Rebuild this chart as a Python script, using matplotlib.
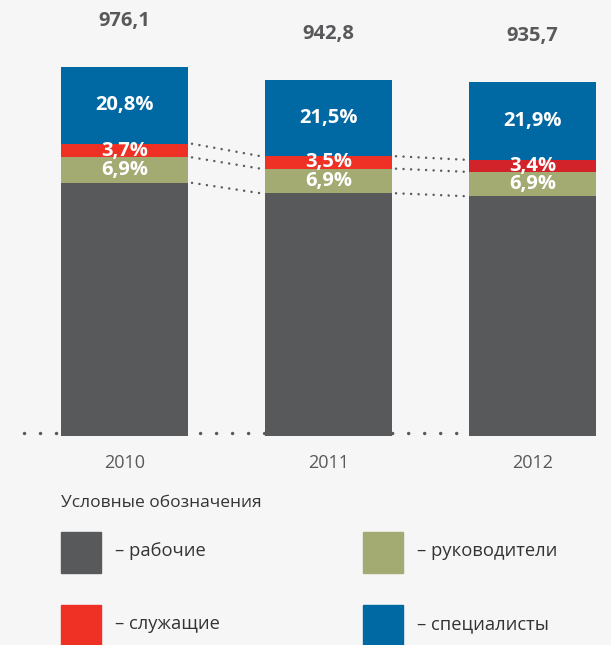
import matplotlib.pyplot as plt
from matplotlib.patches import Rectangle

plt.rcParams['font.family'] = ['Open Sans', 'DejaVu Sans']

# data
years = ["2010", "2011", "2012"]
totals = [976.1, 942.8, 935.7]
specialists = [20.8, 21.5, 21.9]   # специалисты, %
employees = [3.7, 3.5, 3.4]        # служащие, %
managers = [6.9, 6.9, 6.9]         # руководители, %
workers = [round(100 - s - e - m, 1) for s, e, m in zip(specialists, employees, managers)]

total_labels = ["976,1", "942,8", "935,7"]

c_gray = "#58595b"
c_green = "#a4ab72"
c_red = ["#ee3124", "#ee3124", "#d2232a"]
c_blue = "#0069a4"
txt = "#58595b"

fig = plt.figure(figsize=(6.11, 6.45), dpi=100, facecolor="#f6f6f6")
ax = fig.add_axes([0, 0.324, 1, 0.676])
ax.set_facecolor("none")
ax.axis("off")
ax.set_xlim(-0.610, 2.385)
ax.set_ylim(0, 1153.3)

x = range(len(years))
w = 0.6225

# absolute segment sizes
g = [t * p / 100 for t, p in zip(totals, workers)]
m = [t * p / 100 for t, p in zip(totals, managers)]
e = [t * p / 100 for t, p in zip(totals, employees)]
s = [t * p / 100 for t, p in zip(totals, specialists)]
b1 = g
b2 = [a + b for a, b in zip(g, m)]
b3 = [a + b for a, b in zip(b2, e)]

# baseline dots
ax.plot([-0.493, 2.331], [9, 9], color="#58595b", lw=2.5,
        linestyle=(0, (0.01, 4.6)), dash_capstyle="round", zorder=1)

ax.bar(x, g, w, color=c_gray, zorder=2)
ax.bar(x, m, w, bottom=b1, color=c_green, zorder=2)
ax.bar(x, e, w, bottom=b2, color=c_red, zorder=2)
ax.bar(x, s, w, bottom=b3, color=c_blue, zorder=2)

# connecting dotted lines
for i in range(len(years) - 1):
    for lvl in (b1, b2, b3):
        ax.plot([i + w / 2 + 0.02, i + 1 - w / 2 - 0.02], [lvl[i], lvl[i + 1]],
                color="#5a5b5d", lw=1.8, linestyle=(0, (0.01, 3.0)),
                dash_capstyle="round", zorder=1)

for i in x:
    for bot, h, p in ((b1[i], m[i], managers[i]), (b2[i], e[i], employees[i]),
                      (b3[i], s[i], specialists[i])):
        ax.text(i, bot + h / 2, f"{p:.1f}%".replace(".", ","), ha="center", va="center",
                color="white", fontsize=14.5, fontweight="bold", zorder=3)
    ax.annotate(total_labels[i], (i, totals[i]), xytext=(0, 33), textcoords="offset points",
                ha="center", va="center", color=txt, fontsize=14.5, fontweight="bold")
    ax.annotate(years[i], (i, 0), xytext=(0, -19.5), textcoords="offset points",
                ha="center", va="center", color=txt, fontsize=13)

# legend in pixel coordinates
la = fig.add_axes([0, 0, 1, 1])
la.set_xlim(0, 611)
la.set_ylim(645, 0)
la.axis("off")
la.set_facecolor("none")
la.text(61, 503, "Условные обозначения", ha="left", va="center", fontsize=12.5, color="#333333")
leg = [("– рабочие", c_gray, 61, 532), ("– руководители", c_green, 363, 532),
       ("– служащие", "#ee3124", 61, 605), ("– специалисты", c_blue, 363, 605)]
for label, col, lx, ly in leg:
    la.add_patch(Rectangle((lx, ly), 40, 41, color=col))
    la.text(lx + 54, ly + 19, label, ha="left", va="center", fontsize=13.2, color="#333333")

fig.savefig("out.png", dpi=100, facecolor=fig.get_facecolor())
